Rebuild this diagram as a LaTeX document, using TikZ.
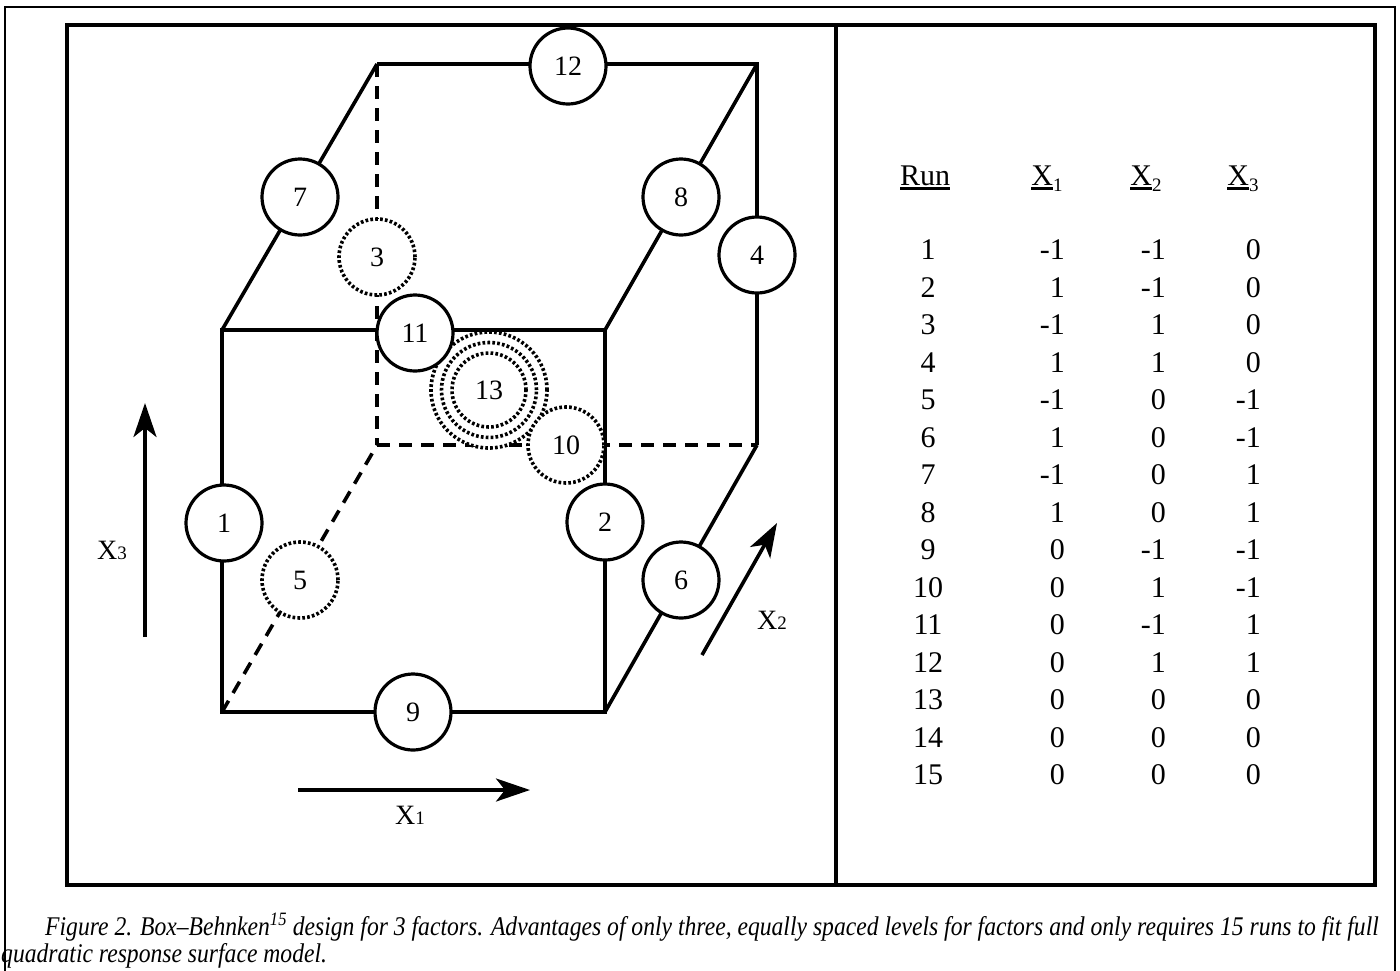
\documentclass[tikz,border=0pt]{standalone}
\usepackage{fontspec}
\setmainfont{Liberation Serif}
\usetikzlibrary{arrows.meta}
\newcommand\myul[1]{\setbox0\hbox{#1}\rlap{\rule[-4.5pt]{\wd0}{2.6pt}}\box0}
\begin{document}
\begin{tikzpicture}[x=1pt,y=-1pt,
  edge/.style={line width=3.6pt},
  hid/.style={line width=3.6pt,dash pattern=on 13pt off 9pt},
  pt/.style={circle,draw,line width=3.2pt,fill=white,minimum size=76pt,inner sep=0pt,font=\fontsize{28}{28}\selectfont},
  dpt/.style={pt,line width=3.6pt,dash pattern=on 2.7pt off 2.2pt},
  axis/.style={line width=3.6pt,-{Stealth[length=34pt,width=23pt,inset=9pt]}},
  axlab/.style={font=\fontsize{28}{28}\selectfont},
  hdr/.style={font=\fontsize{30}{30}\selectfont,inner sep=0pt,anchor=base},
  cell/.style={font=\fontsize{30}{30}\selectfont,inner sep=0pt},
  captext/.style={anchor=base west,inner sep=0pt,font=\itshape\fontsize{27}{27}\selectfont}]
\useasboundingbox (0,0) rectangle (1400,970);
% frames
\draw[line width=1.2pt] (5,7) rectangle (1395,995);
\draw[line width=4pt] (67,25) rectangle (1375,885);
\coordinate (dtop) at (836,25);
\coordinate (dbot) at (836,885);
\draw[line width=4pt] (dtop) -- (dbot);
% cube corners
\coordinate (FTL) at (222,330);
\coordinate (FTR) at (605,330);
\coordinate (FBL) at (222,712);
\coordinate (FBR) at (605,712);
\coordinate (BTL) at (377,64);
\coordinate (BTR) at (757,64);
\coordinate (BBL) at (377,445);
\coordinate (BBR) at (757,445);
% hidden edges
\draw[hid] (BTL) -- (BBL);
\draw[hid] (BBL) -- (BBR);
\draw[hid] (FBL) -- (BBL);
% visible edges
\draw[edge] (FTL) -- (FTR) -- (FBR) -- (FBL) -- cycle;
\draw[edge] (BTL) -- (BTR) -- (BBR);
\draw[edge] (FTL) -- (BTL);
\draw[edge] (FTR) -- (BTR);
\draw[edge] (FBR) -- (BBR);
% design points
\node[pt] (p12) at (568,66) {12};
\node[pt] (p7) at (300,197) {7};
\node[pt] (p8) at (681,197) {8};
\node[dpt] (p3) at (377,257) {3};
\node[pt] (p4) at (757,255) {4};
\node[dpt,minimum size=116pt] (p13c) at (489,390) {};
\node[dpt,minimum size=95pt] (p13b) at (489,390) {};
\node[dpt,minimum size=74pt] (p13) at (489,390) {13};
\node[pt] (p11) at (415,333) {11};
\node[dpt] (p10) at (566,445) {10};
\node[pt] (p1) at (224,523) {1};
\node[pt] (p2) at (605,522) {2};
\node[dpt] (p5) at (300,580) {5};
\node[pt] (p6) at (681,580) {6};
\node[pt] (p9) at (413,712) {9};
% axes
\coordinate (x3s) at (145,637);
\coordinate (x3e) at (145,403);
\draw[axis] (x3s) -- (x3e);
\node[axlab] (lx3) at (112,550) {X\fontsize{19}{19}\selectfont 3};
\coordinate (x1s) at (298,790);
\coordinate (x1e) at (530,790);
\draw[axis] (x1s) -- (x1e);
\node[axlab] (lx1) at (410,815) {X\fontsize{19}{19}\selectfont 1};
\coordinate (x2s) at (702,655);
\coordinate (x2e) at (777,523);
\draw[axis] (x2s) -- (x2e);
\node[axlab] (lx2) at (772,620) {X\fontsize{19}{19}\selectfont 2};
% table header
\node[hdr] (hrun) at (925,185) {\myul{Run}};
\node[hdr] (hx1) at (1047,185) {\myul{X}\raisebox{-6pt}{\fontsize{19}{19}\selectfont 1}};
\node[hdr] (hx2) at (1146,185) {\myul{X}\raisebox{-6pt}{\fontsize{19}{19}\selectfont 2}};
\node[hdr] (hx3) at (1243,185) {\myul{X}\raisebox{-6pt}{\fontsize{19}{19}\selectfont 3}};
% table rows
\foreach \r/\a/\b/\c [count=\i from 0] in {1/-1/-1/0,2/1/-1/0,3/-1/1/0,4/1/1/0,5/-1/0/-1,6/1/0/-1,7/-1/0/1,8/1/0/1,9/0/-1/-1,10/0/1/-1,11/0/-1/1,12/0/1/1,13/0/0/0,14/0/0/0,15/0/0/0}{
  \pgfmathsetmacro\yy{250+37.5*\i}
  \node[cell] (r\r) at (928,\yy) {\r};
  \node[cell,anchor=east] (a\r) at (1065,\yy) {\a};
  \node[cell,anchor=east] (b\r) at (1166,\yy) {\b};
  \node[cell,anchor=east] (c\r) at (1261,\yy) {\c};
}
% caption
\node[captext] (cap1) at (45,935) {\scalebox{0.875}[1]{Figure 2. Box–Behnken\textsuperscript{15} design for 3 factors. Advantages of only three, equally spaced levels for factors and only requires 15 runs to fit full}};
\node[captext] (cap2) at (1,962) {\scalebox{0.875}[1]{quadratic response surface model.}};
\end{tikzpicture}
\end{document}
